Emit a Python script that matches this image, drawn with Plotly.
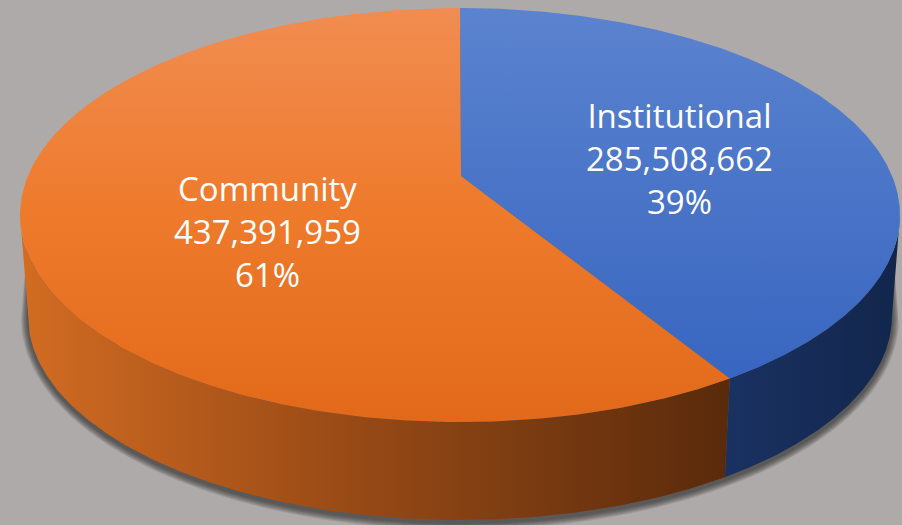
import numpy as np
import plotly.graph_objects as go

# ---- data ----
labels = ["Institutional", "Community"]
values = [285508662, 437391959]

# ---- style ----
top_scales = [
    [[0, "#5B83CF"], [1, "#3462BE"]],   # Institutional top (vertical gradient)
    [[0, "#F18D52"], [0.5, "#EE7A2B"], [1, "#E2691A"]],  # Community top
]
side_scales = [
    [[0, "#1A3262"], [1, "#12264C"]],   # Institutional side
    [[0, "#D26C22"], [0.45, "#9A4B16"], [1, "#592A0B"]],  # Community side
]
label_pos = [(679, 158), (267, 231)]
BG = "#ADAAA9"
W, H = 902, 525
CX, CY, RX, RY = 460.0, 215.0, 440.0, 207.0      # top rim ellipse
AX, AY = 461.0, 176.0                            # apex of slices
BCX, BCY, BRX, BRY = 460.0, 316.0, 432.0, 204.0  # bottom rim ellipse


def top_pt(t):
    return CX + RX * np.sin(t), CY - RY * np.cos(t)


def bot_pt(t):
    return BCX + BRX * np.sin(t), BCY - BRY * np.cos(t)


total = float(sum(values))
fracs = [v / total for v in values]
bounds = np.concatenate([[0.0], np.cumsum(fracs)]) * 2 * np.pi

fig = go.Figure()

# ---- soft shadow under the front rim ----
for k in range(7):
    grow = 7 - k
    t1 = np.linspace(-np.pi / 2, np.pi / 2, 200)
    t2 = np.linspace(np.pi / 2, 3 * np.pi / 2, 200)
    xs1 = CX + (RX - 8) * np.sin(t1)
    ys1 = CY + 20 - RY * np.cos(t1)
    xs2 = BCX + (BRX + grow) * np.sin(t2)
    ys2 = BCY + 3 - (BRY + grow) * np.cos(t2)
    fig.add_trace(go.Scatter(
        x=np.concatenate([xs1, xs2]), y=np.concatenate([ys1, ys2]),
        mode="lines", line=dict(width=0), fill="toself",
        fillcolor="rgba(30,30,30,0.11)", hoverinfo="skip", showlegend=False))

# ---- sides (front half only) ----
for i in range(len(values)):
    a0, a1 = bounds[i], bounds[i + 1]
    s0, s1 = max(a0, np.pi / 2), min(a1, 3 * np.pi / 2)
    if s1 <= s0:
        continue
    t = np.linspace(s0, s1, 200)
    tx, ty = top_pt(t)
    bx, by = bot_pt(t[::-1])
    xs = np.concatenate([tx, bx, tx[:1]])
    ys = np.concatenate([ty, by, ty[:1]])
    fig.add_trace(go.Scatter(
        x=xs, y=ys, mode="lines", line=dict(width=0), fill="toself",
        fillgradient=dict(type="horizontal", colorscale=side_scales[i],
                          start=float(xs.min()), stop=float(xs.max())),
        hoverinfo="skip", showlegend=False))

# ---- top faces ----
for i in range(len(values)):
    a0, a1 = bounds[i], bounds[i + 1]
    t = np.linspace(a0, a1, 300)
    tx, ty = top_pt(t)
    xs = np.concatenate([[AX], tx, [AX]])
    ys = np.concatenate([[AY], ty, [AY]])
    fig.add_trace(go.Scatter(
        x=xs, y=ys, mode="lines", line=dict(width=0), fill="toself",
        fillgradient=dict(type="vertical", colorscale=top_scales[i],
                          start=CY - RY, stop=CY + RY),
        hoverinfo="skip", showlegend=False))

# ---- labels ----
for i in range(len(values)):
    pct = round(100 * fracs[i])
    txt = f"{labels[i]}<br>{values[i]:,}<br>{pct}%"
    fig.add_annotation(x=label_pos[i][0], y=label_pos[i][1], text=txt,
                       showarrow=False, xanchor="center", yanchor="middle",
                       font=dict(family="Open Sans", size=33, color="white"))

fig.update_layout(
    width=W, height=H, margin=dict(l=0, r=0, t=0, b=0),
    paper_bgcolor=BG, plot_bgcolor=BG,
    xaxis=dict(range=[0, W], visible=False, fixedrange=True),
    yaxis=dict(range=[H, 0], visible=False, fixedrange=True),
)

fig.write_html("out.html",
               config={"displayModeBar": False},
               post_script="document.body.style.margin='0';")
